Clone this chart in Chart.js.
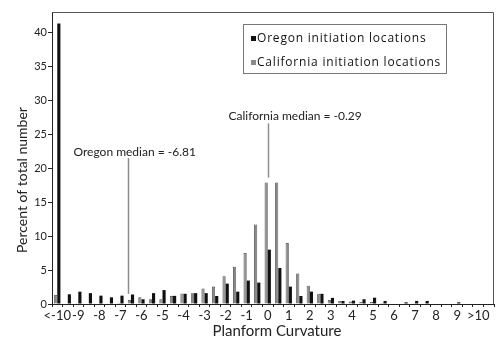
<!DOCTYPE html>
<html>
<head>
<meta charset="utf-8">
<script src="https://cdn.jsdelivr.net/npm/chart.js@4.4.0/dist/chart.umd.min.js"></script>
<style>
  html, body { margin: 0; padding: 0; background: #fff; }
</style>
</head>
<body>
<canvas id="curv" width="496" height="346"></canvas>
<script>
// half-unit curvature bins, named by their lower edge
const bins = ['<-10', '-10', '-9.5', '-9', '-8.5', '-8', '-7.5', '-7', '-6.5', '-6', '-5.5',
  '-5', '-4.5', '-4', '-3.5', '-3', '-2.5', '-2', '-1.5', '-1', '-0.5',
  '0', '0.5', '1', '1.5', '2', '2.5', '3', '3.5', '4', '4.5',
  '5', '5.5', '6', '6.5', '7', '7.5', '8', '8.5', '9', '9.5', '>10'];

// one label every second bin
const tickLabels = ['<-10', '-9', '-8', '-7', '-6', '-5', '-4', '-3', '-2', '-1', '0',
  '1', '2', '3', '4', '5', '6', '7', '8', '9', '>10'];

const yTickValues = [0, 5, 10, 15, 20, 25, 30, 35, 40];

const oregonPct = [41.3, 1.43, 1.82, 1.6, 1.23, 0.98, 1.23, 1.4, 0.7, 1.6, 2.05,
  1.2, 1.5, 1.6, 1.6, 1.18, 3.0, 1.82, 3.45, 3.15, 8.0,
  5.3, 2.56, 1.18, 1.82, 1.5, 0.9, 0.45, 0.5, 0.7, 0.93,
  0.45, 0, 0.25, 0.45, 0.45, 0, 0, 0.25, 0, 0, 0];

const californiaPct = [1.33, 0, 0.1, 0, 0, 0, 0.2, 0.6, 1.0, 0.7, 0.7,
  1.2, 1.55, 1.6, 2.3, 2.56, 4.1, 5.5, 7.5, 11.7, 17.9,
  17.9, 9.0, 4.5, 2.7, 1.5, 0.6, 0.45, 0.35, 0.3, 0.3,
  0.15, 0, 0, 0.1, 0, 0, 0, 0, 0, 0, 0];

const oregonMedian = 'Oregon median = -6.81';
const californiaMedian = 'California median = -0.29';

// where the median call-outs sit: bin index, line top/bottom in percent, text offset
const notes = [
  { text: oregonMedian, at: 6.7, top: 21.5, bottom: 1.5, dx: -55, dy: -6 },
  { text: californiaMedian, at: 20.03, top: 26.6, bottom: 18.6, dx: -40, dy: -7 }
];

const INK = '#222';

const extras = {
  id: 'extras',
  afterDraw(chart) {
    const { ctx, chartArea: a, scales: { x, y } } = chart;
    ctx.save();

    // top and right sides of the frame
    ctx.strokeStyle = '#555';
    ctx.lineWidth = 1;
    ctx.beginPath();
    ctx.moveTo(a.left, a.top + 0.5);
    ctx.lineTo(a.right - 0.5, a.top + 0.5);
    ctx.lineTo(a.right - 0.5, a.bottom);
    ctx.stroke();

    // median lines and their labels
    notes.forEach(n => {
      const px = Math.round(x.getPixelForValue(n.at)) + 0.5;
      const yTop = y.getPixelForValue(n.top);
      ctx.strokeStyle = '#8c8c8c';
      ctx.lineWidth = 1.5;
      ctx.beginPath();
      ctx.moveTo(px, yTop);
      ctx.lineTo(px, y.getPixelForValue(n.bottom));
      ctx.stroke();
      ctx.fillStyle = INK;
      ctx.font = '12px Lato';
      ctx.textAlign = 'left';
      ctx.textBaseline = 'middle';
      ctx.fillText(n.text, px + n.dx, yTop + n.dy);
    });

    // legend box, Oregon listed first
    ctx.strokeStyle = '#777';
    ctx.lineWidth = 1;
    ctx.fillStyle = '#fff';
    ctx.fillRect(243.5, 24.5, 203, 49);
    ctx.strokeRect(243.5, 24.5, 203, 49);
    const order = [1, 0];
    ctx.font = '12px "Open Sans"';
    ctx.letterSpacing = '0.8px';
    ctx.textBaseline = 'middle';
    order.forEach((di, row) => {
      const ds = chart.data.datasets[di];
      const cy = 39 + row * 24;
      ctx.fillStyle = ds.backgroundColor;
      ctx.fillRect(251, cy - 3, 5, 5);
      ctx.fillStyle = '#111';
      ctx.fillText(ds.label, 257, cy);
    });
    ctx.letterSpacing = '0px';

    // axis titles
    ctx.fillStyle = INK;
    ctx.textAlign = 'center';
    ctx.textBaseline = 'middle';
    ctx.font = '15px Lato';
    ctx.fillText('Planform Curvature', 277, 331);
    ctx.font = '14px Lato';
    ctx.translate(22, 180);
    ctx.rotate(-Math.PI / 2);
    ctx.fillText('Percent of total number', 0, 0);

    ctx.restore();
  }
};

new Chart(document.getElementById('curv'), {
  type: 'bar',
  data: {
    labels: bins,
    datasets: [
      {
        label: 'California initiation locations',
        data: californiaPct,
        backgroundColor: '#8a8a8a',
        borderColor: '#444',
        borderWidth: 0.8,
        categoryPercentage: 0.6,
        barPercentage: 1
      },
      {
        label: 'Oregon initiation locations',
        data: oregonPct,
        backgroundColor: '#111',
        borderWidth: 0,
        categoryPercentage: 0.6,
        barPercentage: 1
      }
    ]
  },
  options: {
    responsive: false,
    animation: false,
    layout: { padding: { top: 12, right: 2, left: 0, bottom: 0 } },
    plugins: {
      legend: { display: false },
      tooltip: { enabled: false }
    },
    scales: {
      x: {
        afterFit: s => { s.height = 42; },
        grid: { offset: true, drawOnChartArea: false, tickLength: 3, color: INK },
        border: { color: INK, width: 1 },
        ticks: {
          autoSkip: false,
          maxRotation: 0,
          padding: 1,
          color: INK,
          font: { family: 'Lato', size: 13 },
          callback: (v, i) => (i % 2 === 0 ? tickLabels[i / 2] : '')
        }
      },
      y: {
        min: 0,
        max: 43,
        afterFit: s => { s.width = 52; },
        afterBuildTicks: s => { s.ticks = yTickValues.map(v => ({ value: v })); },
        grid: { drawOnChartArea: false, tickLength: 4, color: INK },
        border: { color: INK, width: 1 },
        ticks: {
          padding: 1,
          color: INK,
          font: { family: 'Lato', size: 11 }
        }
      }
    }
  },
  plugins: [extras]
});
</script>
</body>
</html>
